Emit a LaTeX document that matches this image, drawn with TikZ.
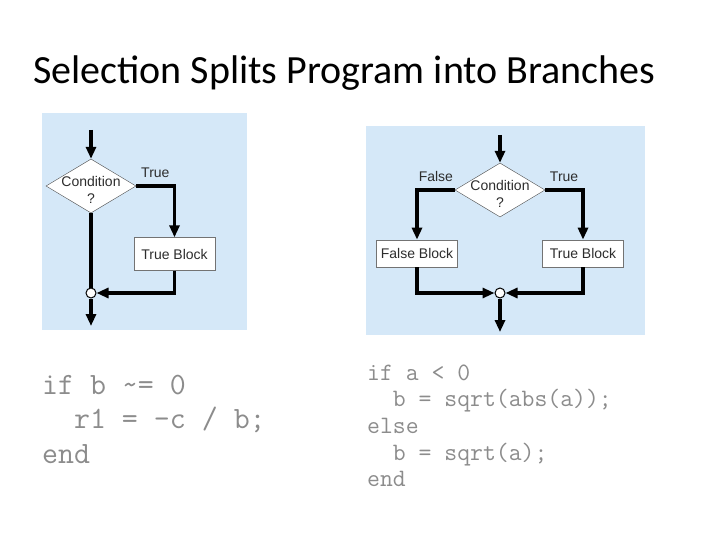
\documentclass[tikz,border=0pt]{standalone}
\usepackage{fontspec}
\setmainfont{Carlito}
\setsansfont{Liberation Sans}
\usetikzlibrary{positioning,shapes.geometric,arrows.meta}

\definecolor{panelblue}{RGB}{213,232,248}
\definecolor{codegray}{RGB}{140,140,140}
\definecolor{labelgray}{RGB}{45,45,45}

\tikzset{
  panel/.style={fill=panelblue, draw=none},
  decision/.style={diamond, draw=black!70, fill=white, inner sep=0pt, minimum width=90pt, minimum height=54pt},
  block/.style={rectangle, draw=black!55, fill=white, minimum width=81pt, inner sep=0pt, font=\sffamily\fontsize{14}{17}\selectfont, text=labelgray},
  junction/.style={circle, draw=black, line width=1pt, fill=white, minimum size=10pt, inner sep=0pt},
  flow/.style={line width=3.5pt, -{Triangle[length=12pt,width=10pt]}},
  link/.style={line width=3.5pt},
  branch/.style={font=\sffamily\fontsize{14}{17}\selectfont, text=labelgray},
  codeL/.style={anchor=base west, inner sep=0pt, text=codegray, font=\ttfamily\fontsize{31}{34}\selectfont},
  codeR/.style={anchor=base west, inner sep=0pt, text=codegray, font=\ttfamily\fontsize{25}{27}\selectfont}
}

\begin{document}
\begin{tikzpicture}[x=1pt,y=-1pt]
    \useasboundingbox (0,0) rectangle (720,540);
    \fill[white] (0,0) rectangle (720,540);

    % Titel
    \node[anchor=base west, inner sep=0pt, font=\fontsize{40}{48}\selectfont] (title) at (33,83.3) {Selection Splits Program into Branches};

    % Hintergrund
    \fill[panel] (41.5,113) rectangle (246.5,330);
    \fill[panel] (366,126.5) rectangle (645,335);

    % Linkes Diagramm: if ohne else
    \coordinate (inL) at (91,130);
    \node (condL) at (91,186) [decision, label={[align=center, branch, yshift=-4pt]center:Condition\\?}] {};
    \node (trueL) at (174.5,254) [block, minimum height=33pt] {True Block};
    \node (joinL) at (91,293) [junction] {};
    \coordinate (outL) at (91,326);

    \draw[flow] (inL) -- (condL.north);
    \draw[flow] (condL.east) -| node[pos=0.25, above=3pt, branch] {True} (trueL.north);
    \draw[link] (condL.south) -- (joinL.north);
    \draw[flow] (trueL.south) |- (joinL.east);
    \draw[flow] (joinL.south) -- (outL);

    % Rechtes Diagramm: if mit else
    \coordinate (inR) at (500,135);
    \node (condR) at (500,190) [decision, label={[align=center, branch, yshift=-4pt]center:Condition\\?}] {};
    \node (falseR) at (417,253.3) [block, minimum height=27pt] {False Block};
    \node (trueR) at (583,253.3) [block, minimum height=27pt] {True Block};
    \node (joinR) at (500,293) [junction] {};
    \coordinate (outR) at (500,332);

    \draw[flow] (inR) -- (condR.north);
    \draw[flow] (condR.west) -| node[pos=0.25, above=3pt, branch] {False} (falseR.north);
    \draw[flow] (condR.east) -| node[pos=0.25, above=3pt, branch] {True} (trueR.north);
    \draw[flow] (falseR.south) |- (joinR.west);
    \draw[flow] (trueR.south) |- (joinR.east);
    \draw[flow] (joinR.south) -- (outR);

    % Code links
    \node[codeL] (ifL) at (42,394) {if b \textasciitilde= 0};
    \node[codeL] (bodyL) at (42,428.5) {\hphantom{xx}r1 = -c / b;};
    \node[codeL] (endL) at (42,463) {end};

    % Code rechts
    \node[codeR] (ifR) at (367,380) {if a < 0};
    \node[codeR] (thenR) at (367,406.7) {\hphantom{xx}b = sqrt(abs(a));};
    \node[codeR] (elseR) at (367,433) {else};
    \node[codeR] (bodyR) at (367,460) {\hphantom{xx}b = sqrt(a);};
    \node[codeR] (endR) at (367,486.7) {end};
\end{tikzpicture}
\end{document}
